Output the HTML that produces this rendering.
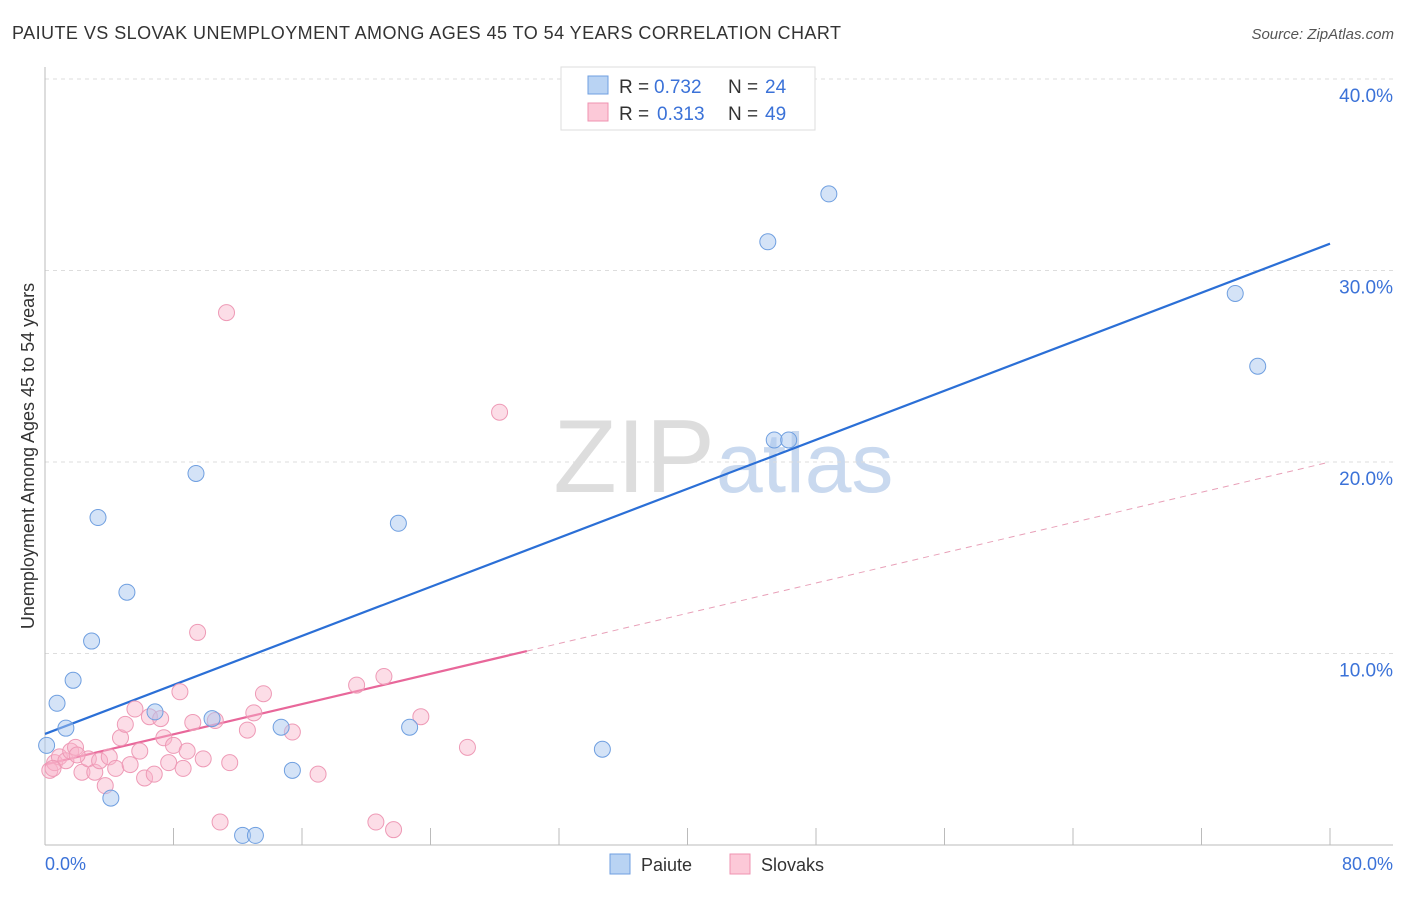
<!DOCTYPE html>
<html><head><meta charset="utf-8"><style>
body{margin:0;background:#fff;font-family:"Liberation Sans",sans-serif;}
svg text{font-family:"Liberation Sans",sans-serif;}
</style></head><body>
<svg id="chart" width="1406" height="892">
<text x="12" y="39" font-size="18" fill="#333" letter-spacing="0.45">PAIUTE VS SLOVAK UNEMPLOYMENT AMONG AGES 45 TO 54 YEARS CORRELATION CHART</text>
<text x="1394" y="39" font-size="15" fill="#555" font-style="italic" text-anchor="end">Source: ZipAtlas.com</text>
<text x="715" y="492" font-size="104" fill="#ddd" text-anchor="end" font-family="Liberation Serif">ZIP</text>
<text x="716" y="492" font-size="84" fill="#c9d9ef">atlas</text>
<g id="grid"></g><g id="axes"></g><g id="lines"></g><g id="points"></g>
<text transform="translate(34,456) rotate(-90)" font-size="18" fill="#333" text-anchor="middle">Unemployment Among Ages 45 to 54 years</text>
<text x="45" y="870" font-size="18" fill="#3b72d8">0.0%</text>
<text x="1393" y="870" font-size="18" fill="#3b72d8" text-anchor="end">80.0%</text>
<g>
<rect x="561" y="67" width="254" height="63" fill="#fff" stroke="#ddd"/>
<rect x="588" y="76" width="20" height="18" fill="#b9d3f3" stroke="#6f9fe0"/>
<rect x="588" y="103" width="20" height="18" fill="#fcc9d8" stroke="#ef93b1"/>
<text x="619" y="93" font-size="19" fill="#333">R =</text>
<text x="654" y="93" font-size="19" fill="#3b72d8">0.732</text>
<text x="728" y="93" font-size="19" fill="#333">N =</text>
<text x="765" y="93" font-size="19" fill="#3b72d8">24</text>
<text x="619" y="120" font-size="19" fill="#333">R =</text>
<text x="657" y="120" font-size="19" fill="#3b72d8">0.313</text>
<text x="728" y="120" font-size="19" fill="#333">N =</text>
<text x="765" y="120" font-size="19" fill="#3b72d8">49</text>
</g>
<g>
<rect x="610" y="854" width="20" height="20" fill="#b9d3f3" stroke="#6f9fe0"/>
<text x="641" y="871" font-size="18" fill="#333">Paiute</text>
<rect x="730" y="854" width="20" height="20" fill="#fcc9d8" stroke="#ef93b1"/>
<text x="761" y="871" font-size="18" fill="#333">Slovaks</text>
</g>
</svg>
<script>
const yTicks=[10,20,30,40];
const xTicks=[8,16,24,32,40,48,56,64,72,80];
const paiuteX=[0.1,0.75,1.3,1.75,2.9,3.3,4.1,5.1,6.85,9.4,10.4,12.3,13.1,14.7,15.4,22.0,22.7,34.7,45.0,45.4,46.3,48.8,74.1,75.5];
const paiuteY=[5.2,7.4,6.1,8.6,10.65,17.1,2.45,13.2,6.95,19.4,6.6,0.5,0.5,6.15,3.9,16.8,6.15,5.0,31.5,21.15,21.15,34.0,28.8,25.0];
const slovakX=[0.3,0.6,0.9,1.3,1.6,1.9,2.3,2.7,3.1,3.4,3.75,4.0,4.4,4.7,5.0,5.3,5.6,5.9,6.2,6.5,6.8,7.2,7.4,7.7,8.0,8.4,8.6,8.85,9.2,9.5,9.85,10.6,10.9,11.3,11.5,12.6,13.0,13.6,15.4,17.0,19.4,20.6,21.1,21.7,23.4,26.3,28.3,0.5,2.0];
const slovakY=[3.9,4.3,4.6,4.4,4.9,5.1,3.8,4.5,3.8,4.4,3.1,4.6,4.0,5.6,6.3,4.2,7.1,4.9,3.5,6.7,3.7,6.6,5.6,4.3,5.2,8.0,4.0,4.9,6.4,11.1,4.5,6.5,1.2,27.8,4.3,6.0,6.9,7.9,5.9,3.7,8.35,1.2,8.8,0.8,6.7,5.1,22.6,4.0,4.7];
const paiuteFit=[5.8,31.4];
const slovakFit=[4.2,20.0];
const X=v=>45+v*1285/80, Y=v=>845-v*19.15;
const NS='http://www.w3.org/2000/svg';
function mk(tag,attrs,parent){const e=document.createElementNS(NS,tag);for(const k in attrs)e.setAttribute(k,attrs[k]);document.getElementById(parent).appendChild(e);return e;}
yTicks.forEach(t=>{
 const l=mk('line',{x1:45,x2:1393,y1:Y(t),y2:Y(t),stroke:'#ddd','stroke-dasharray':'4,4'},'grid');
 
 
 const tx=mk('text',{x:1393,y:Y(t)+23,'font-size':19,fill:'#3b72d8','text-anchor':'end'},'grid');
 tx.textContent=t.toFixed(1)+'%';
 
 
});
let a=mk('line',{x1:45,x2:45,y1:67,y2:845,stroke:'#bbb'},'axes');


a=mk('line',{x1:45,x2:1393,y1:845,y2:845,stroke:'#bbb'},'axes');


xTicks.forEach(t=>{const l=mk('line',{x1:X(t),x2:X(t),y1:828,y2:845,stroke:'#bbb'},'axes');
 
 });
let ln=mk('line',{x1:X(0),y1:Y(paiuteFit[0]),x2:X(80),y2:Y(paiuteFit[1]),stroke:'#2b6fd6','stroke-width':2.2},'lines');


const sy=x=>slovakFit[0]+(slovakFit[1]-slovakFit[0])*x/80;
ln=mk('line',{x1:X(0),y1:Y(sy(0)),x2:X(30),y2:Y(sy(30)),stroke:'#e8679a','stroke-width':2.2},'lines');


ln=mk('line',{x1:X(30),y1:Y(sy(30)),x2:X(80),y2:Y(sy(80)),stroke:'#e8a0b8','stroke-width':1,'stroke-dasharray':'6,5'},'lines');


slovakX.forEach((x,i)=>{const c=mk('circle',{cx:X(x),cy:Y(slovakY[i]),r:8,fill:'rgba(248,180,202,0.45)',stroke:'#ee9ab6','stroke-width':1},'points');
 
 });
paiuteX.forEach((x,i)=>{const c=mk('circle',{cx:X(x),cy:Y(paiuteY[i]),r:8,fill:'rgba(170,200,240,0.5)',stroke:'#6f9fe0','stroke-width':1},'points');
 
 });
</script>
</body></html>
